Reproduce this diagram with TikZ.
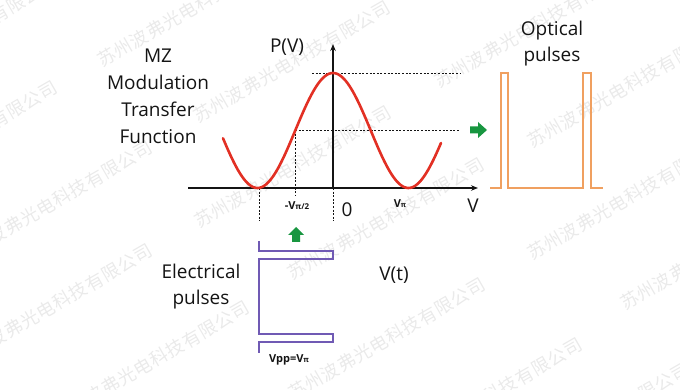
\documentclass[tikz,border=0pt]{standalone}
\usepackage{fontspec}
\setmainfont{Open Sans}
\newfontfamily\cjk{Noto Sans CJK SC}[LetterSpace=4]
\usetikzlibrary{arrows.meta}
\definecolor{curvered}{RGB}{226,48,36}
\definecolor{optorange}{RGB}{240,160,96}
\definecolor{elpurple}{RGB}{112,90,180}
\definecolor{arrgreen}{RGB}{24,150,64}
\definecolor{txt}{RGB}{20,20,20}
\definecolor{wmgray}{RGB}{234,234,234}
\begin{document}
\begin{tikzpicture}[x=1pt,y=-1pt,
  lbl/.style={font=\fontsize{19}{19}\selectfont, text=txt, inner sep=0pt, anchor=base},
  small/.style={font=\fontsize{11}{11}\selectfont\bfseries, text=txt, inner sep=0pt, anchor=base},
  axisline/.style={draw=txt, line width=1.1pt, -{Stealth[length=7pt,width=5.5pt]}},
  guide/.style={draw=txt, line width=0.9pt, dash pattern=on 2pt off 1.6pt},
  wm/.style={font=\cjk\fontsize{18}{18}\selectfont, text=wmgray, rotate=30, inner sep=0pt},
  optline/.style={draw=optorange, line width=1.6pt},
  elline/.style={draw=elpurple, line width=1.6pt},
  greenarrow/.style={fill=arrgreen}
]
\useasboundingbox (0,0) rectangle (680,390);
% watermark
\foreach \mx/\my [count=\i] in {196/6,292/62,293/167,386/219,533/27,626/87,626/199,719/249,54/202,54/305,-41/142,387/339,484/399,151/362,-41/37,591/424}
  \node[wm] (wm\i) at (\mx,\my) {苏州波弗光电科技有限公司};

% axes
\coordinate (origin) at (333,188);
\coordinate (xstart) at (188,188);
\coordinate (xend) at (478,188);
\coordinate (ytop) at (333,44);
\draw[axisline] (xstart) -- (xend);
\draw[axisline] (origin) -- (ytop);

% guide lines
\coordinate (peak) at (312,73);
\coordinate (peakend) at (460,73);
\coordinate (half) at (295,130);
\coordinate (halfend) at (460,130);
\draw[guide] (peak) -- (peakend);
\draw[guide] (half) -- (halfend);
\draw[guide] (half) -- (295,196);
\draw[guide] (259,188) -- (259,221);
\draw[guide] (origin) -- (333,221);

% transfer curve
\draw[curvered, line width=2.6pt, line cap=round]
  plot[domain=223:441, samples=120, smooth] (\x, {188-57.5*(1+cos(((\x-333)/75.5)*180))});

% labels
\node[lbl] (t1) at (158,63) {MZ};
\node[lbl] (t2) at (158,90) {Modulation};
\node[lbl] (t3) at (158,117) {Transfer};
\node[lbl] (t4) at (158,144) {Function};
\node[lbl] (pv) at (287,53) {P(V)};
\node[lbl] (vax) at (473,213) {V};
\node[lbl] (zero) at (347,217) {0};
\node[small] (vpi) at (400,208) {V{\fontsize{7}{7}\selectfont π}};
\node[small] (vpi2) at (297,210) {-V{\fontsize{8}{8}\selectfont π/2}};
\node[lbl] (vt) at (394,280) {V(t)};
\node[lbl] (el1) at (201,278) {Electrical};
\node[lbl] (el2) at (201,304) {pulses};
\node[lbl] (op1) at (552,36) {Optical};
\node[lbl] (op2) at (552,62) {pulses};
\node[small] (vpp) at (289,362) {Vpp=V{\fontsize{7.5}{7.5}\selectfont π}};

% green arrows
\fill[greenarrow] (470,126.5) -- (478,126.5) -- (478,122) -- (487,130) -- (478,138) -- (478,133.5) -- (470,133.5) -- cycle;
\fill[greenarrow] (292,242) -- (292,235) -- (288,235) -- (296,227) -- (304,235) -- (300,235) -- (300,242) -- cycle;

% optical pulses
\draw[optline] (490,188) -- (501,188) -- (501,73) -- (508,73) -- (508,188) -- (583,188) -- (583,73) -- (591,73) -- (591,188) -- (603,188);

% electrical pulses
\draw[elline] (259,241) -- (259,251) -- (333,251) -- (333,259) -- (259,259) -- (259,334) -- (333,334) -- (333,342) -- (259,342) -- (259,353);
\end{tikzpicture}
\end{document}
